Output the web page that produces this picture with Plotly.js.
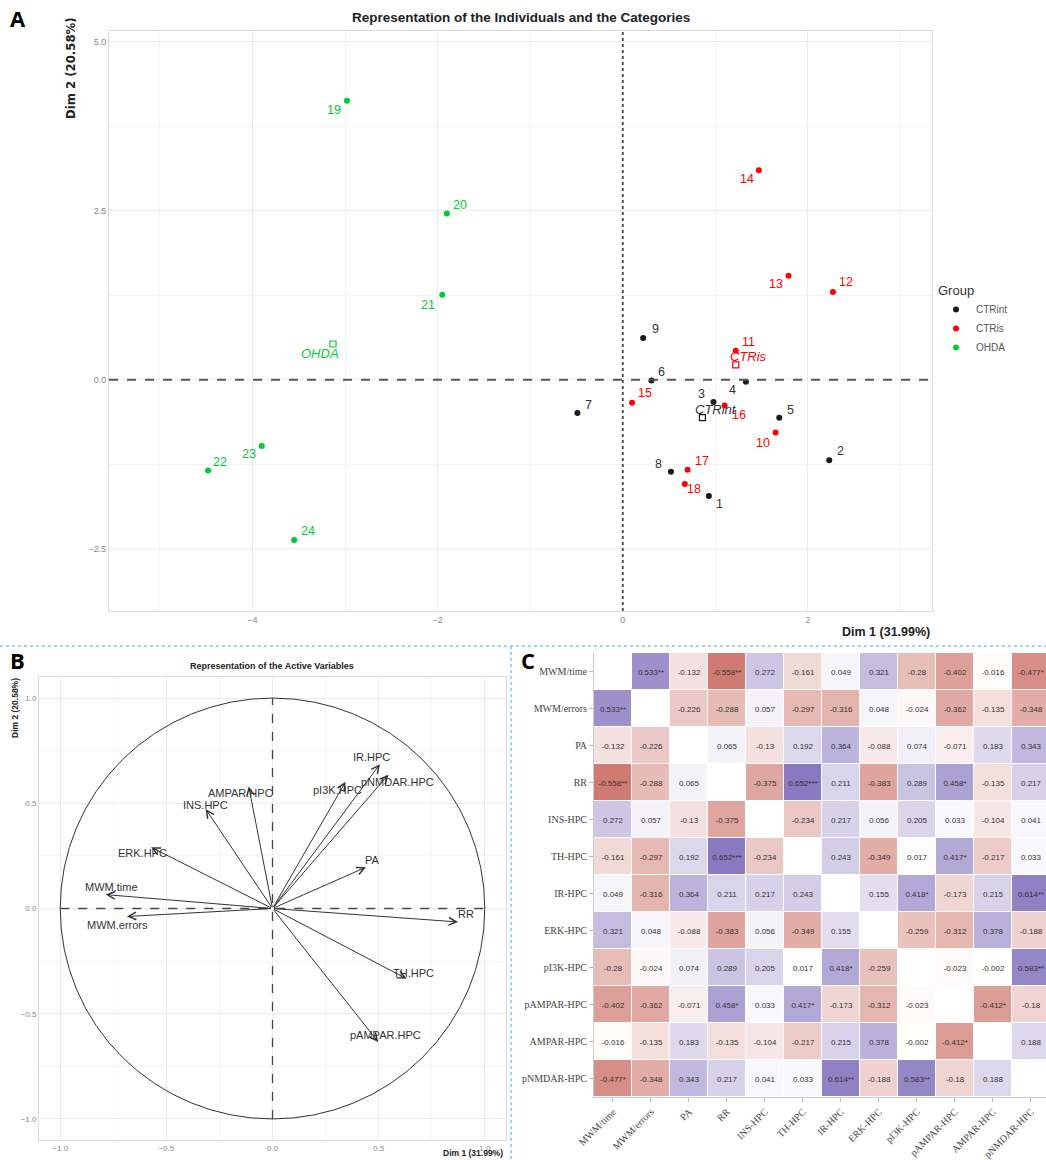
<!DOCTYPE html>
<html>
<head>
<meta charset="utf-8">
<script src="https://cdn.plot.ly/plotly-3.0.1.min.js"></script>
<style>html,body{margin:0;padding:0;background:#fff;}#chart{width:1046px;height:1160px;}</style>
</head>
<body>
<div id="chart"></div>
<script>
// ---------- Panel A data: individuals ----------
const ctrintIds = ['1','2','3','4','5','6','7','8','9'];
const ctrintDim1 = [0.93, 2.23, 0.98, 1.33, 1.69, 0.31, -0.49, 0.52, 0.22];
const ctrintDim2 = [-1.72, -1.19, -0.33, -0.03, -0.56, -0.01, -0.49, -1.36, 0.62];

const ctrisIds = ['10','11','12','13','14','15','16','17','18'];
const ctrisDim1 = [1.65, 1.22, 2.27, 1.79, 1.47, 0.10, 1.10, 0.70, 0.67];
const ctrisDim2 = [-0.78, 0.43, 1.30, 1.54, 3.10, -0.34, -0.38, -1.33, -1.54];

const ohdaIds = ['19','20','21','22','23','24'];
const ohdaDim1 = [-2.98, -1.90, -1.95, -4.48, -3.90, -3.55];
const ohdaDim2 = [4.13, 2.46, 1.26, -1.34, -0.98, -2.37];

const groupNames = ['CTRint', 'CTRis', 'OHDA'];
const centroidDim1 = [0.86, 1.22, -3.13];
const centroidDim2 = [-0.56, 0.22, 0.53];

// ---------- Panel B data: variables ----------
const varNames = ['MWM.time','MWM.errors','ERK.HPC','INS.HPC','AMPAR.HPC','pI3K.HPC','IR.HPC','pNMDAR.HPC','PA','RR','TH.HPC','pAMPAR.HPC'];
const varDim1 = [-0.786, -0.686, -0.572, -0.315, -0.112, 0.344, 0.506, 0.546, 0.440, 0.874, 0.632, 0.498];
const varDim2 = [0.066, -0.038, 0.291, 0.473, 0.580, 0.602, 0.686, 0.636, 0.196, -0.064, -0.334, -0.634];

// ---------- Panel C data: correlation matrix ----------
const corrLabels = ['MWM/time','MWM/errors','PA','RR','INS-HPC','TH-HPC','IR-HPC','ERK-HPC','pI3K-HPC','pAMPAR-HPC','AMPAR-HPC','pNMDAR-HPC'];
const corrValues = [
  [null, 0.533, -0.132, -0.558, 0.272, -0.161, 0.049, 0.321, -0.28, -0.402, -0.016, -0.477],
  [0.533, null, -0.226, -0.288, 0.057, -0.297, -0.316, 0.048, -0.024, -0.362, -0.135, -0.348],
  [-0.132, -0.226, null, 0.065, -0.13, 0.192, 0.364, -0.088, 0.074, -0.071, 0.183, 0.343],
  [-0.558, -0.288, 0.065, null, -0.375, 0.652, 0.211, -0.383, 0.289, 0.458, -0.135, 0.217],
  [0.272, 0.057, -0.13, -0.375, null, -0.234, 0.217, 0.056, 0.205, 0.033, -0.104, 0.041],
  [-0.161, -0.297, 0.192, 0.652, -0.234, null, 0.243, -0.349, 0.017, 0.417, -0.217, 0.033],
  [0.049, -0.316, 0.364, 0.211, 0.217, 0.243, null, 0.155, 0.418, -0.173, 0.215, 0.614],
  [0.321, 0.048, -0.088, -0.383, 0.056, -0.349, 0.155, null, -0.259, -0.312, 0.378, -0.188],
  [-0.28, -0.024, 0.074, 0.289, 0.205, 0.017, 0.418, -0.259, null, -0.023, -0.002, 0.583],
  [-0.402, -0.362, -0.071, 0.458, 0.033, 0.417, -0.173, -0.312, -0.023, null, -0.412, -0.18],
  [-0.016, -0.135, 0.183, -0.135, -0.104, -0.217, 0.215, 0.378, -0.002, -0.412, null, 0.188],
  [-0.477, -0.348, 0.343, 0.217, 0.041, 0.033, 0.614, -0.188, 0.583, -0.18, 0.188, null]
];
const corrStars = [
  ['', '**', '', '**', '', '', '', '', '', '', '', '*'],
  ['**', '', '', '', '', '', '', '', '', '', '', ''],
  ['', '', '', '', '', '', '', '', '', '', '', ''],
  ['**', '', '', '', '', '***', '', '', '', '*', '', ''],
  ['', '', '', '', '', '', '', '', '', '', '', ''],
  ['', '', '', '***', '', '', '', '', '', '*', '', ''],
  ['', '', '', '', '', '', '', '', '*', '', '', '**'],
  ['', '', '', '', '', '', '', '', '', '', '', ''],
  ['', '', '', '', '', '', '*', '', '', '', '', '**'],
  ['', '', '', '*', '', '*', '', '', '', '', '*', ''],
  ['', '', '', '', '', '', '', '', '', '*', '', ''],
  ['*', '', '', '', '', '', '**', '', '**', '', '', '']
];

// ---------- styles ----------
const W = 1046, H = 1160;
const px = v => v / W;
const py = v => 1 - v / H;
const colBlack = '#1a1a1a', colRed = '#ff0000', colGreen = '#00cc33';
const grpColors = [colBlack, colRed, colGreen];
const grpTextColors = ['#333333', colRed, colGreen];
// label offsets (pixels) relative to each point, like a repel layout
const shiftCtrint = [[11,-8],[11,9],[-12,8],[-13,-8],[11,8],[10,8],[11,8],[-12,8],[12,9]];
const shiftCtris = [[-13,-10],[13,9],[13,10],[-13,-8],[-12,-9],[13,10],[14,-10],[14,9],[9,-5]];
const shiftOhda = [[-13,-9],[13,9],[-14,-10],[12,8],[-13,-8],[14,9]];
const centroidShift = [[14, 8], [13, 8], [-13, -10]];
const varLabelShift = [[6,8],[-9,-8],[-9,-6],[0,4],[-8,-7],[-8,-8],[-8,7],[9,-7],[7,7],[8,8],[7,6],[7,7]];

const traces = [];
const annotations = [];
const shapes = [];

const ptGroups = [
  [ctrintIds, ctrintDim1, ctrintDim2, shiftCtrint],
  [ctrisIds, ctrisDim1, ctrisDim2, shiftCtris],
  [ohdaIds, ohdaDim1, ohdaDim2, shiftOhda]
];
ptGroups.forEach((g, i) => {
  traces.push({
    type: 'scatter', mode: 'markers', x: g[1], y: g[2], name: groupNames[i],
    xaxis: 'x', yaxis: 'y', marker: {color: grpColors[i], size: 6}, showlegend: true, hoverinfo: 'skip'
  });
  g[0].forEach((id, k) => {
    annotations.push({xref: 'x', yref: 'y', x: g[1][k], y: g[2][k], text: id, showarrow: false,
      xshift: g[3][k][0], yshift: g[3][k][1],
      font: {size: 12.5, color: grpTextColors[i], family: 'Liberation Sans, Arial'}});
  });
});
// centroids
traces.push({
  type: 'scatter', mode: 'markers', x: centroidDim1, y: centroidDim2, xaxis: 'x', yaxis: 'y',
  marker: {symbol: 'square-open', size: 6, color: grpColors, line: {width: 1.2}}, showlegend: false, hoverinfo: 'skip'
});
groupNames.forEach((g, i) => {
  annotations.push({xref: 'x', yref: 'y', x: centroidDim1[i], y: centroidDim2[i], text: '<i>' + g + '</i>', showarrow: false,
    xshift: centroidShift[i][0], yshift: centroidShift[i][1],
    font: {size: 13, color: grpTextColors[i], family: 'Liberation Sans, Arial'}});
});

// heatmap
const corrText = corrValues.map((row, i) => row.map((v, j) => v === null ? '' : String(v) + corrStars[i][j]));
traces.push({
  type: 'heatmap', x: corrLabels, y: corrLabels, z: corrValues, text: corrText,
  texttemplate: '%{text}', textfont: {size: 8, color: '#333', family: 'Liberation Sans, Arial'},
  xaxis: 'x3', yaxis: 'y3', zmin: -0.7, zmax: 0.7, showscale: false, xgap: 1, ygap: 1,
  colorscale: [[0, 'rgb(196,89,78)'], [0.5, 'rgb(255,255,255)'], [1, 'rgb(127,111,187)']],
  hoverongaps: false, hoverinfo: 'skip'
});

// Panel letters
[['A', 18, 18], ['B', 17, 660], ['C', 528, 660]].forEach(l => {
  annotations.push({xref: 'paper', yref: 'paper', x: px(l[1]), y: py(l[2]), text: '<b>' + l[0] + '</b>', showarrow: false,
    font: {size: 22, family: 'Open Sans, Liberation Sans, Arial', color: '#000'}, xanchor: 'center', yanchor: 'middle'});
});
// Panel A titles
annotations.push({xref: 'paper', yref: 'paper', x: px(521), y: py(18), text: '<b>Representation of the Individuals and the Categories</b>',
  showarrow: false, font: {size: 13.5, color: '#222', family: 'Liberation Sans, Arial'}, xanchor: 'center', yanchor: 'middle'});
annotations.push({xref: 'paper', yref: 'paper', x: px(70), y: py(68), text: '<b>Dim 2 (20.58%)</b>', textangle: -90,
  showarrow: false, font: {size: 13, color: '#222', family: 'Liberation Sans Narrow, DejaVu Sans Condensed, Arial'}, xanchor: 'center', yanchor: 'middle'});
annotations.push({xref: 'paper', yref: 'paper', x: px(932), y: py(632), text: '<b>Dim 1 (31.99%)</b>',
  showarrow: false, font: {size: 12.5, color: '#222', family: 'Liberation Sans, Arial'}, xanchor: 'right', yanchor: 'middle'});
// Panel B titles
annotations.push({xref: 'paper', yref: 'paper', x: px(272), y: py(666), text: '<b>Representation of the Active Variables</b>',
  showarrow: false, font: {size: 9, color: '#222', family: 'Liberation Sans, Arial'}, xanchor: 'center', yanchor: 'middle'});
annotations.push({xref: 'paper', yref: 'paper', x: px(15), y: py(708), text: '<b>Dim 2 (20.58%)</b>', textangle: -90,
  showarrow: false, font: {size: 8.5, color: '#222', family: 'Liberation Sans, Arial'}, xanchor: 'center', yanchor: 'middle'});
annotations.push({xref: 'paper', yref: 'paper', x: px(505), y: py(1160), text: '<b>Dim 1 (31.99%)</b>',
  showarrow: false, font: {size: 8.5, color: '#222', family: 'Liberation Sans, Arial'}, xanchor: 'right', yanchor: 'bottom'});
// arrows and labels
varNames.forEach((n, i) => {
  annotations.push({xref: 'x2', yref: 'y2', axref: 'x2', ayref: 'y2', x: varDim1[i], y: varDim2[i], ax: 0, ay: 0,
    text: '', showarrow: true, arrowhead: 5, arrowsize: 1.5, arrowwidth: 1, arrowcolor: '#333', standoff: 0, startstandoff: 0});
  annotations.push({xref: 'x2', yref: 'y2', x: varDim1[i], y: varDim2[i], text: n, showarrow: false,
    xshift: varLabelShift[i][0], yshift: varLabelShift[i][1], font: {size: 11, color: '#333', family: 'Liberation Sans, Arial'}});
});

// Panel A zero lines
shapes.push({type: 'line', xref: 'x', yref: 'y domain', x0: 0, x1: 0, y0: 0, y1: 1, line: {color: '#555', width: 2, dash: 'dot'}});
shapes.push({type: 'line', xref: 'x domain', yref: 'y', x0: 0, x1: 1, y0: 0, y1: 0, line: {color: '#555', width: 2, dash: 'dash'}});
// Panel B circle and zero lines
shapes.push({type: 'circle', xref: 'x2', yref: 'y2', x0: -1, x1: 1, y0: -1, y1: 1, line: {color: '#333', width: 1}});
shapes.push({type: 'line', xref: 'x2', yref: 'y2', x0: -1, x1: 1, y0: 0, y1: 0, line: {color: '#444', width: 1.3, dash: 'dash'}});
shapes.push({type: 'line', xref: 'x2', yref: 'y2', x0: 0, x1: 0, y0: -1, y1: 1, line: {color: '#444', width: 1.3, dash: 'dash'}});
// separators
shapes.push({type: 'line', xref: 'paper', yref: 'paper', x0: 0, x1: 1, y0: py(646), y1: py(646), line: {color: '#7cc6e6', width: 1.5, dash: 'dot'}});
shapes.push({type: 'line', xref: 'paper', yref: 'paper', x0: px(511), x1: px(511), y0: py(646), y1: 0, line: {color: '#7cc6e6', width: 1.5, dash: 'dot'}});

const tickGrey = {size: 9, color: '#888', family: 'Liberation Sans, Arial'};
const layout = {
  width: W, height: H, margin: {l: 0, r: 0, t: 0, b: 0},
  paper_bgcolor: '#fff', plot_bgcolor: '#fff',
  font: {family: 'Liberation Sans, Arial', color: '#333'},
  showlegend: true,
  legend: {x: px(936), y: py(278), xanchor: 'left', yanchor: 'top', bgcolor: 'rgba(0,0,0,0)',
    title: {text: 'Group', font: {size: 13, color: '#333'}}, font: {size: 10, color: '#555'}, itemwidth: 30},
  xaxis: {domain: [px(109), px(932)], anchor: 'y', range: [-5.55, 3.34], dtick: 2, tick0: 0,
    gridcolor: '#ebebeb', minor: {dtick: 1, showgrid: true, gridcolor: '#f2f2f2'},
    showline: true, mirror: true, linecolor: '#dadada', zeroline: false, ticks: '', tickfont: tickGrey},
  yaxis: {domain: [py(611), py(31)], anchor: 'x', range: [-3.42, 5.16], dtick: 2.5, tick0: 0, tickformat: '.1f',
    gridcolor: '#ebebeb', minor: {dtick: 1.25, showgrid: true, gridcolor: '#f2f2f2'},
    showline: true, mirror: true, linecolor: '#dadada', zeroline: false, ticks: '', tickfont: tickGrey},
  xaxis2: {domain: [px(39), px(506)], anchor: 'y2', range: [-1.1, 1.1], dtick: 0.5, tick0: 0, tickformat: '.1f',
    gridcolor: '#ebebeb', minor: {dtick: 0.25, showgrid: true, gridcolor: '#f4f4f4'},
    showline: true, mirror: true, linecolor: '#dadada', zeroline: false, ticks: '', tickfont: {size: 8, color: '#888'}},
  yaxis2: {domain: [py(1140), py(677)], anchor: 'x2', range: [-1.1, 1.1], dtick: 0.5, tick0: 0, tickformat: '.1f',
    gridcolor: '#ebebeb', minor: {dtick: 0.25, showgrid: true, gridcolor: '#f4f4f4'},
    showline: true, mirror: true, linecolor: '#dadada', zeroline: false, ticks: '', tickfont: {size: 8, color: '#888'}},
  xaxis3: {domain: [px(594), 1], anchor: 'y3', type: 'category', range: [-0.5, 11.4], tickangle: -45,
    showgrid: false, zeroline: false, showline: true, linecolor: '#ccc', ticks: 'outside', ticklen: 4, tickcolor: '#bbb',
    tickfont: {size: 10, color: '#444', family: 'Liberation Serif, Times New Roman, serif'}},
  yaxis3: {domain: [py(1097), py(653)], anchor: 'x3', type: 'category', range: [11.5, -0.5],
    showgrid: false, zeroline: false, showline: true, linecolor: '#ccc', ticks: 'outside', ticklen: 4, tickcolor: '#bbb',
    tickfont: {size: 10, color: '#444', family: 'Liberation Serif, Times New Roman, serif'}},
  annotations: annotations,
  shapes: shapes
};

Plotly.newPlot('chart', traces, layout, {displayModeBar: false, staticPlot: true});
</script>
</body>
</html>
